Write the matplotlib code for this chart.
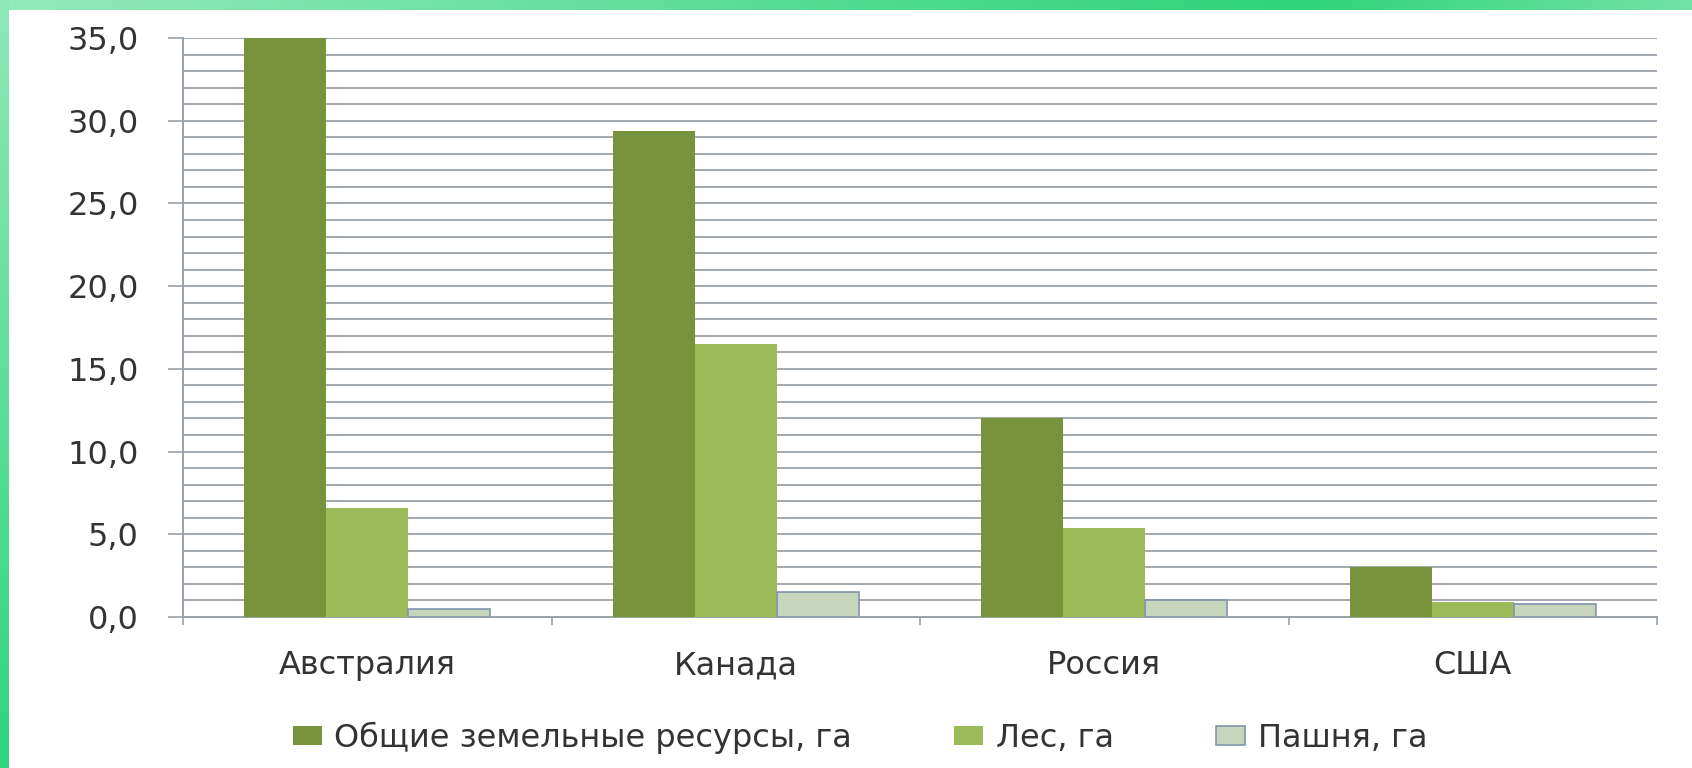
import numpy as np
import matplotlib
matplotlib.use("Agg")
import matplotlib.pyplot as plt
from matplotlib.ticker import MultipleLocator, FuncFormatter
from matplotlib.colors import to_rgb

countries = ["Австралия", "Канада", "Россия", "США"]
series_names = ["Общие земельные ресурсы, га", "Лес, га", "Пашня, га"]
total_land = [35.0, 29.4, 12.0, 3.0]
forest = [6.6, 16.5, 5.4, 0.9]
arable = [0.5, 1.5, 1.0, 0.8]

colors = ["#77933c", "#9bbb59", "#c5d6bd"]
edges = ["none", "none", "#8096ad"]
grid_c = "#9aa1a9"

W, H = 1692, 768
fig = plt.figure(figsize=(W / 100, H / 100), dpi=100)

# green frame along the top and left edges
bg = fig.add_axes([0, 0, 1, 1], zorder=-10)
bg.set_axis_off()
img = np.ones((H, W, 3))
xs = np.linspace(0, 1, W)
c_left, c_mid, c_right = map(np.array, map(to_rgb, ["#94eabb", "#2ed37b", "#72e3a5"]))
top = np.where(xs[:, None] < 0.77,
               c_left + (c_mid - c_left) * (xs[:, None] / 0.77),
               c_mid + (c_right - c_mid) * ((xs[:, None] - 0.77) / 0.23))
img[:10, :, :] = top[None, :, :]
ys = np.linspace(0, 1, H)[:, None]
c_top, c_bot = np.array(to_rgb("#8fe8b6")), np.array(to_rgb("#2ed47f"))
img[:, :9, :] = (c_top + (c_bot - c_top) * ys)[:, None, :]
bg.imshow(img, aspect="auto", extent=[0, 1, 0, 1])

ax = fig.add_axes([183 / W, 1 - 617 / H, (1657 - 183) / W, (617 - 38) / H])
x = np.arange(len(countries))
width = 2 / 9
for i, (vals, name) in enumerate(zip([total_land, forest, arable], series_names)):
    ax.bar(x + (i - 1) * width, vals, width, color=colors[i], edgecolor=edges[i],
           linewidth=1.2 if edges[i] != "none" else 0, label=name, zorder=3)

ax.set_xlim(-0.5, len(countries) - 0.5)
ax.set_ylim(0, 35)
ax.yaxis.set_major_locator(MultipleLocator(5))
ax.yaxis.set_minor_locator(MultipleLocator(1))
ax.yaxis.set_major_formatter(FuncFormatter(lambda v, p: f"{v:.1f}".replace(".", ",")))
ax.grid(axis="y", which="both", color=grid_c, linewidth=1.3, zorder=1)
ax.set_axisbelow(True)

ax.set_xticks(x)
ax.set_xticklabels(countries)
ax.set_xticks(np.arange(-0.5, len(countries)), minor=True)
ax.tick_params(axis="x", which="major", length=0, pad=24, labelsize=23, labelcolor="#333333")
ax.tick_params(axis="x", which="minor", length=6, width=1.2, color=grid_c, direction="out")
ax.tick_params(axis="y", which="major", length=11, width=1.2, color=grid_c, pad=21,
               labelsize=23, labelcolor="#333333")
ax.tick_params(axis="y", which="minor", length=0)

for s in ["top", "right"]:
    ax.spines[s].set_visible(False)
for s in ["left", "bottom"]:
    ax.spines[s].set_color(grid_c)
    ax.spines[s].set_linewidth(1.4)

fig.legend(loc="center", bbox_to_anchor=(860 / W, 1 - 738 / H), ncol=3, frameon=False,
           fontsize=23, handlelength=0.9, handleheight=0.55, handletextpad=0.4,
           columnspacing=3.2, labelcolor="#333333")

fig.savefig("out.png", dpi=100, facecolor="white")
